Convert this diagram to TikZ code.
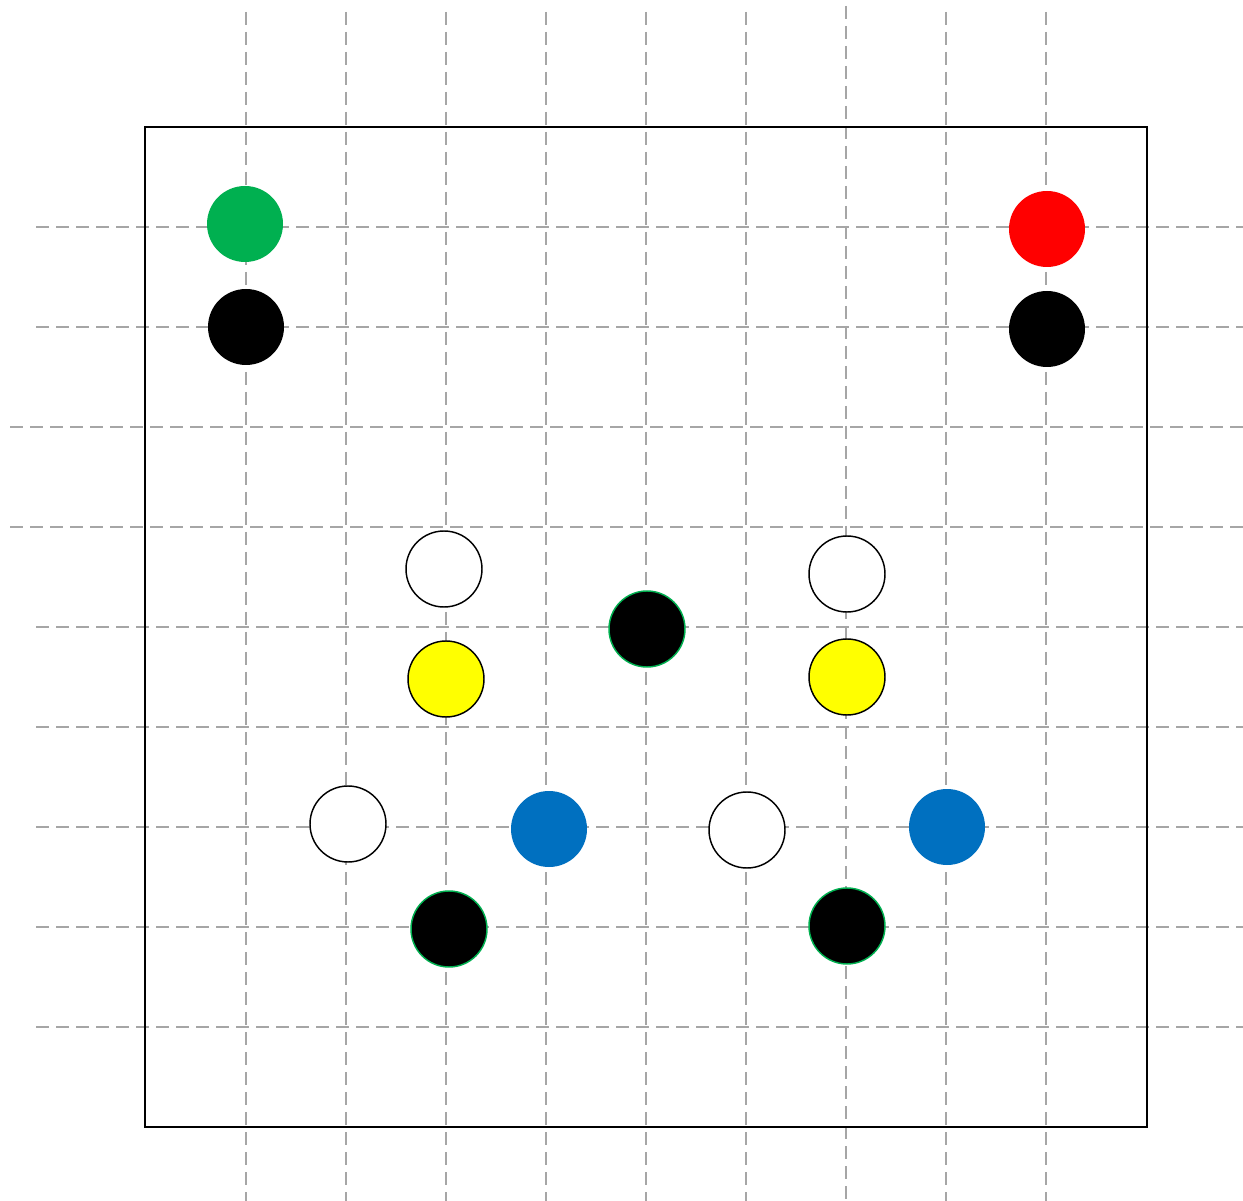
\documentclass[tikz,border=0pt]{standalone}
\definecolor{gridgray}{HTML}{A6A6A6}
\definecolor{mgreen}{HTML}{00B050}
\definecolor{mblue}{HTML}{0070C0}
\definecolor{myellow}{HTML}{FFFF00}
\definecolor{mred}{HTML}{FF0000}
\begin{document}
\begin{tikzpicture}[x=0.75pt,y=-0.75pt,
  gridline/.style={draw=gridgray,line width=1.5pt,dash pattern=on 9.75pt off 5.25pt},
  dot/.style={circle,minimum size=57pt,inner sep=0pt,line width=1.1pt},
  wdot/.style={dot,draw=black,fill=white},
  ydot/.style={dot,draw=black,fill=myellow},
  kdot/.style={dot,draw=mgreen,fill=black},
  fdot/.style={dot,fill=#1}]
\useasboundingbox[fill=white] (0,0) rectangle (1243,1201);
% vertical grid lines
\foreach \x in {246,346,446,546,646,746,946,1046}
  \draw[gridline] (\x,12) -- (\x,1201);
\draw[gridline] (846,6) -- (846,1201);
% horizontal grid lines
\foreach \y in {227,327,627,727,827,927,1027}
  \draw[gridline] (36,\y) -- (1243,\y);
\foreach \y in {427,527}
  \draw[gridline] (10,\y) -- (1243,\y);
% board
\draw[black,line width=1.1pt] (145,127) rectangle (1147,1127);
% stones
\node[fdot=mgreen] (g1) at (245,224) {};
\node[fdot=black] (b1) at (246,327) {};
\node[fdot=mred] (r1) at (1047,229) {};
\node[fdot=black] (b2) at (1047,329) {};
\node[wdot] (w1) at (444,569) {};
\node[kdot] (k1) at (647,629) {};
\node[wdot] (w2) at (847,574) {};
\node[ydot] (y1) at (446,679) {};
\node[ydot] (y2) at (847,677) {};
\node[wdot] (w3) at (348,824) {};
\node[fdot=mblue] (u1) at (549,829) {};
\node[wdot] (w4) at (747,830) {};
\node[fdot=mblue] (u2) at (947,827) {};
\node[kdot] (k2) at (449,929) {};
\node[kdot] (k3) at (847,926) {};
\end{tikzpicture}
\end{document}
